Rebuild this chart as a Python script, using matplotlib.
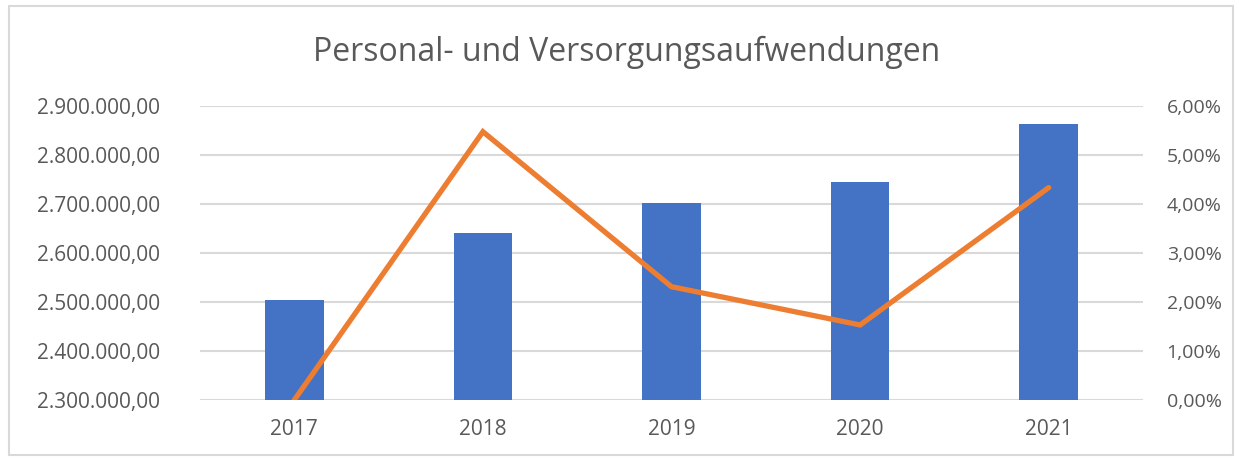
import matplotlib.pyplot as plt
from matplotlib.patches import Rectangle
from matplotlib.ticker import FuncFormatter

years = ['2017', '2018', '2019', '2020', '2021']
aufwendungen = [2504000, 2641000, 2702000, 2744000, 2863000]
steigerung = [0.0, 5.47, 2.31, 1.53, 4.33]  # in %

left_ticks = [2300000, 2400000, 2500000, 2600000, 2700000, 2800000, 2900000]
right_ticks = [0, 1, 2, 3, 4, 5, 6]

grey = '#595959'
plt.rcParams['font.family'] = ['Open Sans', 'DejaVu Sans']

fig = plt.figure(figsize=(12.41, 4.58), dpi=100)
fig.patches.append(Rectangle((9 / 1241, 3 / 458), 1224 / 1241, 449 / 458,
                             transform=fig.transFigure, fill=False,
                             edgecolor='#D9D9D9', linewidth=1.5))

ax = fig.add_axes([200 / 1241, 1 - 400 / 458, 943 / 1241, (400 - 105.7) / 458])
x = range(len(years))
ax.bar(x, aufwendungen, width=0.31, color='#4472C4', zorder=2)
ax.set_ylim(2300000, 2900000)
ax.set_xlim(-0.5, 4.5)
ax.set_yticks(left_ticks)
ax.yaxis.set_major_formatter(FuncFormatter(
    lambda v, p: f'{v:,.2f}'.replace(',', 'X').replace('.', ',').replace('X', '.')))
ax.set_xticks(list(x))
ax.set_xticklabels(years)
ax.grid(axis='y', color='#D9D9D9', linewidth=1.5, zorder=0)
ax.set_axisbelow(True)
for s in ax.spines.values():
    s.set_visible(False)
ax.tick_params(length=0, labelsize=15, colors=grey)
ax.tick_params(axis='y', pad=29)
ax.tick_params(axis='x', pad=14)

ax2 = ax.twinx()
ax2.plot(x, steigerung, color='#ED7D31', linewidth=3.8, solid_capstyle='round',
         solid_joinstyle='miter', zorder=3)
ax2.set_ylim(0, 6)
ax2.set_yticks(right_ticks)
ax2.yaxis.set_major_formatter(FuncFormatter(lambda v, p: f'{v:.2f}%'.replace('.', ',')))
for s in ax2.spines.values():
    s.set_visible(False)
ax2.tick_params(length=0, labelsize=14, colors=grey, pad=17)

fig.text(627 / 1241, 1 - 52 / 458, 'Personal- und Versorgungsaufwendungen',
         ha='center', va='center', fontsize=23, color=grey)

fig.savefig('out.png', dpi=100)
